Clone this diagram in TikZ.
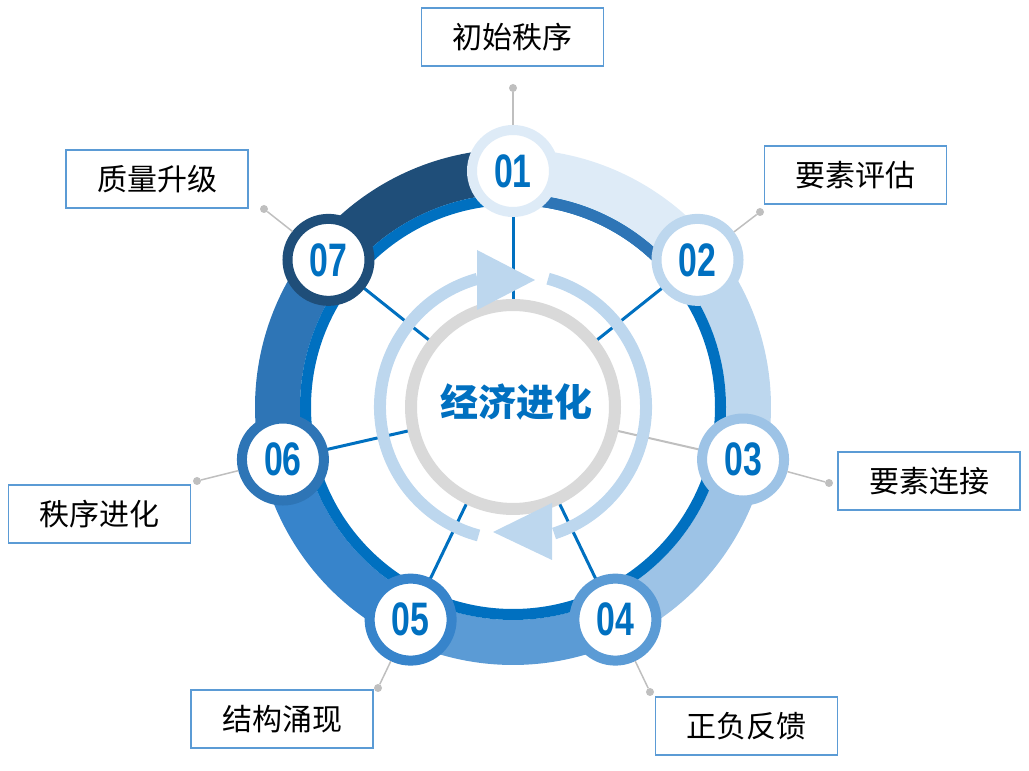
\documentclass[tikz,border=0pt]{standalone}
\usepackage{fontspec}
\newfontfamily\cjk{Noto Sans CJK SC}
\newfontfamily\numf{Liberation Sans}
\definecolor{c1}{HTML}{DEEBF7}
\definecolor{c2}{HTML}{BDD7EE}
\definecolor{c3}{HTML}{9DC3E6}
\definecolor{c4}{HTML}{5B9BD5}
\definecolor{c5}{HTML}{3784CB}
\definecolor{c6}{HTML}{2E75B6}
\definecolor{c7}{HTML}{1F4E79}
\definecolor{mainblue}{HTML}{0070C0}
\definecolor{arrowblue}{HTML}{BDD7EE}
\definecolor{leadgray}{HTML}{BFBFBF}
\definecolor{boxblue}{HTML}{5B9BD5}
\tikzset{
  numnode/.style={circle,minimum size=82pt,inner sep=0pt,fill=white,line width=10pt,text=mainblue,font=\numf\bfseries\fontsize{47}{47}\selectfont},
  labelbox/.style={draw=boxblue,line width=1.5pt,minimum width=182pt,minimum height=58pt,inner sep=0pt,fill=white,font=\cjk\fontsize{30}{30}\selectfont},
  leaddot/.style={circle,fill=leadgray,minimum size=8pt,inner sep=0pt},
  spoke/.style={draw=mainblue,line width=3pt},
}
\begin{document}
\begin{tikzpicture}[x=1pt,y=1pt]
\useasboundingbox (0,0) rectangle (1029,771);
\coordinate (c) at (513,364);
% node centre coordinates
\foreach \k/\a in {1/90,2/38.57,3/-12.86,4/-64.29,5/-115.71,6/-167.14,7/-218.57}{
  \coordinate (p\k) at ([shift={(c)}]\a:236);
}
% spokes
\foreach \k in {1,2,4,5,6,7}{ \draw[spoke] (c) -- (p\k); }
\draw[leadgray,line width=2pt] (c) -- (p3);
% gray circle
\draw[fill=white,draw=black!15,line width=12pt] (c) circle[radius=102];
% arrow ring
\draw[arrowblue,line width=12pt] ([shift={(c)}]74.7:133) arc[start angle=74.7,end angle=-72,radius=133];
\draw[arrowblue,line width=12pt] ([shift={(c)}]105.5:133) arc[start angle=105.5,end angle=255,radius=133];
\fill[arrowblue] (477,521) -- (535,491) -- (477,461) -- cycle;
\fill[arrowblue] (552,268) -- (493,239) -- (552,211) -- cycle;
% band
\foreach \k/\a in {1/90,2/38.57,3/-12.86,4/-64.29,5/-115.71,6/-167.14,7/-218.57}{
  \draw[c\k,line width=45pt] ([shift={(c)}]\a:235.5) arc[start angle=\a,end angle=\a-51.43,radius=235.5];
}
% thin ring
\draw[mainblue,line width=11pt] (c) circle[radius=207.5];
\draw[c6,line width=11pt] ([shift={(c)}]90:207.5) arc[start angle=90,end angle=38.57,radius=207.5];
% centre text
\node (centre) at (516,369) {\cjk\bfseries\fontsize{38}{38}\selectfont\textcolor{mainblue}{经济进化}};
% label boxes and dots
\node[labelbox] (b1) at (512.5,734) {初始秩序};
\node[labelbox] (b2) at (855.5,596) {要素评估};
\node[labelbox] (b3) at (929,290) {要素连接};
\node[labelbox] (b4) at (746.5,45) {正负反馈};
\node[labelbox] (b5) at (282,52) {结构涌现};
\node[labelbox] (b6) at (99.5,257) {秩序进化};
\node[labelbox] (b7) at (157,592) {质量升级};
\node[leaddot] (d1) at (513,683) {};
\node[leaddot] (d2) at (760,559) {};
\node[leaddot] (d3) at (829,288) {};
\node[leaddot] (d4) at (650,79) {};
\node[leaddot] (d5) at (378,83) {};
\node[leaddot] (d6) at (197,290) {};
\node[leaddot] (d7) at (264,562) {};
% number nodes
\foreach \k in {1,...,7}{
  \node[numnode,draw=c\k] (n\k) at (p\k) {\scalebox{0.72}[1]{0\k}};
}
\foreach \k in {1,...,7}{ \draw[leadgray,line width=1.5pt] (d\k) -- (n\k); }
\end{tikzpicture}
\end{document}
